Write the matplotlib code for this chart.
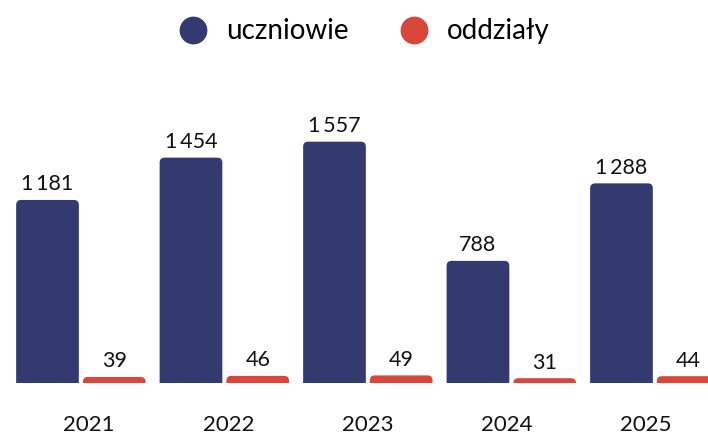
import matplotlib.pyplot as plt
from matplotlib.patches import FancyBboxPatch
from matplotlib.lines import Line2D

years = ['2021', '2022', '2023', '2024', '2025']
uczniowie = [1181, 1454, 1557, 788, 1288]
oddzialy = [39, 46, 49, 31, 44]

NAVY = '#323a70'
RED = '#d9463a'
FONT = ['Lato', 'DejaVu Sans']

plt.rcParams['font.family'] = FONT


def fmt(v):
    # thousands separated with a thin space
    return f'{v:,}'.replace(',', '\u2009')


fig = plt.figure(figsize=(7.08, 4.36), dpi=100)
ax = fig.add_axes([0, 1 - 383 / 436, 1, (383 - 60) / 436])

xmin, xmax = -0.331, 4.603
ymax = 2084
ax.set_xlim(xmin, xmax)
ax.set_ylim(0, ymax)

# pixels per data unit, used to keep the corners circular
bbox = ax.get_window_extent()
px_x = bbox.width / (xmax - xmin)
px_y = bbox.height / ymax
aspect = px_x / px_y

width = 0.437
offset = 0.465
radius = 5 / px_x


def rounded_bar(x, h, color):
    # start below the baseline so only the top corners show rounded
    below = 10 / px_y
    p = FancyBboxPatch((x - width / 2, -below), width, h + below,
                       boxstyle=f'round,pad=0,rounding_size={radius}',
                       mutation_aspect=aspect,
                       fc=color, ec='none', clip_on=True)
    ax.add_patch(p)


for i, (u, o) in enumerate(zip(uczniowie, oddzialy)):
    rounded_bar(i, u, NAVY)
    rounded_bar(i + offset, o, RED)
    ax.annotate(fmt(u), (i, u), xytext=(0, 4), textcoords='offset points',
                ha='center', va='bottom', fontsize=15.5, color='#111111')
    ax.annotate(fmt(o), (i + offset, o), xytext=(0, 4), textcoords='offset points',
                ha='center', va='bottom', fontsize=15.5, color='#111111')

ax.set_xticks([0.289 + 0.9707 * i for i in range(len(years))])
ax.set_xticklabels(years, fontsize=16, color='#111111')
ax.tick_params(axis='x', length=0, pad=23)
ax.set_yticks([])
for s in ax.spines.values():
    s.set_visible(False)

handles = [Line2D([], [], ls='none', marker='o', ms=19, color=NAVY),
           Line2D([], [], ls='none', marker='o', ms=19, color=RED)]
fig.legend(handles, ['uczniowie', 'oddziały'], loc='upper center',
           bbox_to_anchor=(0.505, 1.015), ncol=2, frameon=False,
           fontsize=20, handletextpad=0.2, columnspacing=1.35)

fig.savefig('out.png', dpi=100)
